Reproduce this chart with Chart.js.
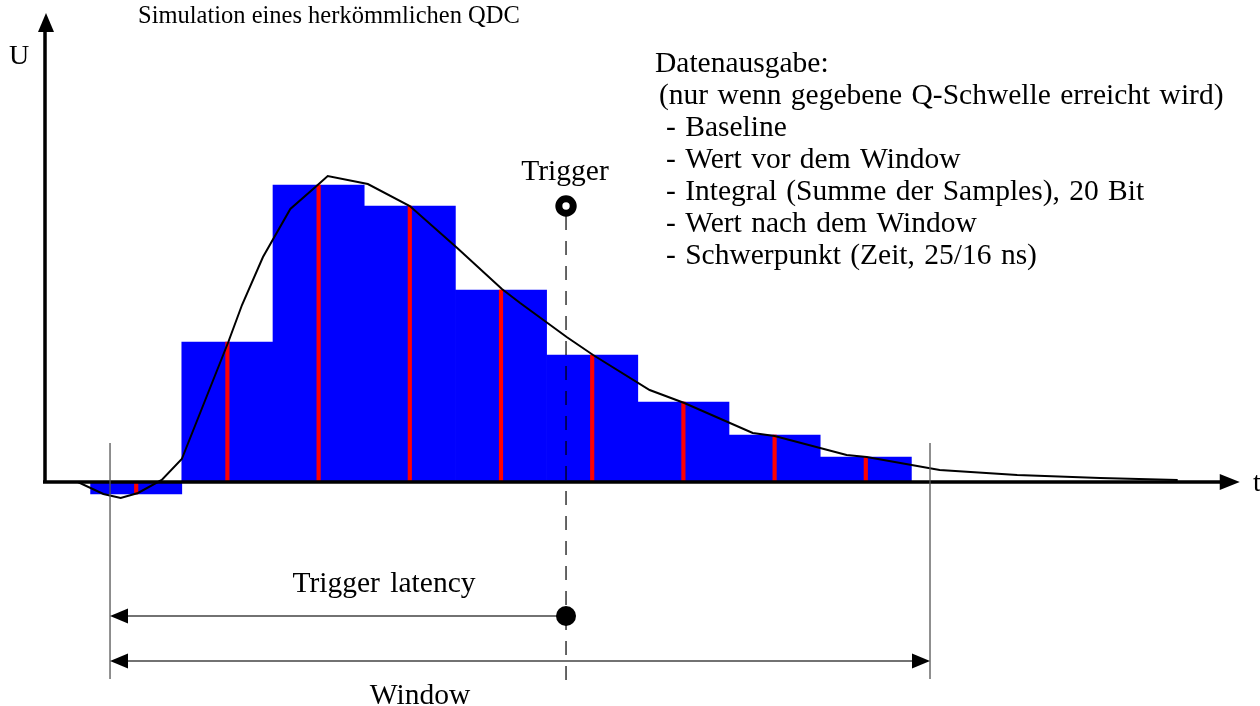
<!DOCTYPE html>
<html>
<head>
<meta charset="utf-8">
<script src="https://cdn.jsdelivr.net/npm/chart.js@4"></script>
<style>
  html, body { margin: 0; padding: 0; background: #fff; }
  #wrap { width: 1260px; height: 706px; }
</style>
</head>
<body>
<div id="wrap"><canvas id="qdc" width="1260" height="706"></canvas></div>
<script>
// sample times (in sample periods) and the sampled voltages
const SAMPLE_T = [1, 2, 3, 4, 5, 6, 7, 8, 9]
const SAMPLE_U = [-0.12, 1.4, 2.97, 2.76, 1.92, 1.27, 0.8, 0.47, 0.25]

// simulated analog pulse
const PULSE_T = [0.16, 0.36, 0.64, 0.83, 1.02, 1.28, 1.5, 2.01, 2.16, 2.39, 2.69, 2.99, 3.1, 3.54, 4.0, 4.52, 5.01, 5.21, 5.72, 6.01, 6.63, 7.01, 7.76, 8.0, 8.79, 9.01, 9.81, 10.66, 11.57, 12.42]
const PULSE_U = [0, 0, -0.12, -0.16, -0.11, 0.02, 0.23, 1.4, 1.77, 2.25, 2.73, 2.97, 3.06, 2.98, 2.76, 2.34, 1.93, 1.79, 1.45, 1.27, 0.92, 0.79, 0.49, 0.46, 0.27, 0.25, 0.12, 0.07, 0.04, 0.02]

const TRIGGER_T = 5.713
const WINDOW_START = 0.713
const WINDOW_END = 9.704

const TITLE = 'Simulation eines herkömmlichen QDC'
const OUTPUT_LINES = [
  'Datenausgabe:',
  '(nur wenn gegebene Q-Schwelle erreicht wird)',
  '- Baseline',
  '- Wert vor dem Window',
  '- Integral (Summe der Samples), 20 Bit',
  '- Wert nach dem Window',
  '- Schwerpunkt (Zeit, 25/16 ns)',
]
const OUTPUT_INDENT = [0, 4, 11, 11, 11, 11, 11]

const SERIF = '"Liberation Serif", "DejaVu Serif", serif'

function arrowHead(ctx, x, y, dir, len, half) {
  // dir: 'up' | 'left' | 'right'
  ctx.beginPath()
  if (dir === 'up') {
    ctx.moveTo(x, y)
    ctx.lineTo(x - half, y + len)
    ctx.lineTo(x + half, y + len)
  } else if (dir === 'left') {
    ctx.moveTo(x, y)
    ctx.lineTo(x + len, y - half)
    ctx.lineTo(x + len, y + half)
  } else {
    ctx.moveTo(x, y)
    ctx.lineTo(x - len, y - half)
    ctx.lineTo(x - len, y + half)
  }
  ctx.closePath()
  ctx.fill()
}

const sketch = {
  id: 'sketch',
  afterDatasetsDraw(chart) {
    const ctx = chart.ctx
    const xs = chart.scales.x
    const ys = chart.scales.y
    const X = v => xs.getPixelForValue(v)
    const Y = v => ys.getPixelForValue(v)
    const x0 = X(0)
    const y0 = Y(0)

    ctx.save()
    ctx.fillStyle = '#000'
    ctx.strokeStyle = '#000'

    // axes
    ctx.lineWidth = 3.5
    ctx.beginPath()
    ctx.moveTo(x0, y0)
    ctx.lineTo(x0, Y(4.5))
    ctx.moveTo(x0 - 2, y0)
    ctx.lineTo(X(12.9), y0)
    ctx.stroke()
    arrowHead(ctx, x0 + 1, Y(4.69), 'up', 19, 8)
    arrowHead(ctx, X(13.1), y0, 'right', 20, 8)

    // window borders
    ctx.strokeStyle = '#555'
    ctx.lineWidth = 1.3
    ctx.beginPath()
    ctx.moveTo(X(WINDOW_START), Y(0.39))
    ctx.lineTo(X(WINDOW_START), Y(-1.97))
    ctx.moveTo(X(WINDOW_END), Y(0.39))
    ctx.lineTo(X(WINDOW_END), Y(-1.97))
    ctx.stroke()

    // trigger latency and window arrows
    const yLat = Y(-1.34)
    const yWin = Y(-1.79)
    ctx.strokeStyle = '#444'
    ctx.lineWidth = 1.5
    ctx.beginPath()
    ctx.moveTo(X(WINDOW_START) + 10, yLat)
    ctx.lineTo(X(TRIGGER_T), yLat)
    ctx.moveTo(X(WINDOW_START) + 10, yWin)
    ctx.lineTo(X(WINDOW_END) - 10, yWin)
    ctx.stroke()
    ctx.fillStyle = '#000'
    arrowHead(ctx, X(WINDOW_START), yLat, 'left', 18, 7.5)
    arrowHead(ctx, X(WINDOW_START), yWin, 'left', 18, 7.5)
    arrowHead(ctx, X(WINDOW_END), yWin, 'right', 18, 7.5)

    // trigger marker
    const xt = X(TRIGGER_T)
    ctx.strokeStyle = '#000'
    ctx.lineWidth = 1.2
    ctx.setLineDash([14, 11])
    ctx.beginPath()
    ctx.moveTo(xt, Y(2.66))
    ctx.lineTo(xt, Y(-2.08))
    ctx.stroke()
    ctx.setLineDash([])
    ctx.lineWidth = 7
    ctx.beginPath()
    ctx.arc(xt, Y(2.76), 7.2, 0, Math.PI * 2)
    ctx.stroke()
    ctx.beginPath()
    ctx.arc(xt, yLat, 10, 0, Math.PI * 2)
    ctx.fill()

    // texts
    ctx.textBaseline = 'alphabetic'
    ctx.textAlign = 'left'
    ctx.font = '24.5px ' + SERIF
    ctx.fillText(TITLE, 138, 23)
    ctx.font = '28px ' + SERIF
    ctx.fillText('U', 9, 64)
    ctx.fillText('t', 1253, 491)
    ctx.font = '29.5px ' + SERIF
    ctx.wordSpacing = '2px'
    OUTPUT_LINES.forEach((line, i) => {
      ctx.fillText(line, 655 + OUTPUT_INDENT[i], 72 + i * 32)
    })
    ctx.font = '29.5px ' + SERIF
    ctx.wordSpacing = '3px'
    ctx.textAlign = 'center'
    ctx.fillText('Trigger', xt - 1, 180)
    ctx.fillText('Trigger latency', 384, 592)
    ctx.fillText('Window', 420, 704)
    ctx.restore()
  },
}

new Chart(document.getElementById('qdc'), {
  type: 'bar',
  data: {
    datasets: [
      {
        type: 'line',
        data: PULSE_T.map((t, i) => ({x: t, y: PULSE_U[i]})),
        borderColor: '#000',
        borderWidth: 2,
        pointRadius: 0,
        tension: 0,
        fill: false,
        order: 0,
      },
      {
        data: SAMPLE_T.map((t, i) => ({x: t, y: SAMPLE_U[i]})),
        backgroundColor: '#ff0000',
        barThickness: 3.5,
        grouped: false,
        order: 1,
      },
      {
        data: SAMPLE_T.map((t, i) => ({x: t, y: SAMPLE_U[i]})),
        backgroundColor: '#0000ff',
        categoryPercentage: 1,
        barPercentage: 1,
        grouped: false,
        order: 2,
      },
    ],
  },
  options: {
    responsive: false,
    animation: false,
    layout: {padding: 0},
    plugins: {
      legend: {display: false},
      tooltip: {enabled: false},
    },
    scales: {
      x: {type: 'linear', offset: false, min: -45 / 91.2, max: 1215 / 91.2, display: false},
      y: {type: 'linear', min: -2.24, max: 4.82, display: false},
    },
  },
  plugins: [sketch],
})
</script>
</body>
</html>
